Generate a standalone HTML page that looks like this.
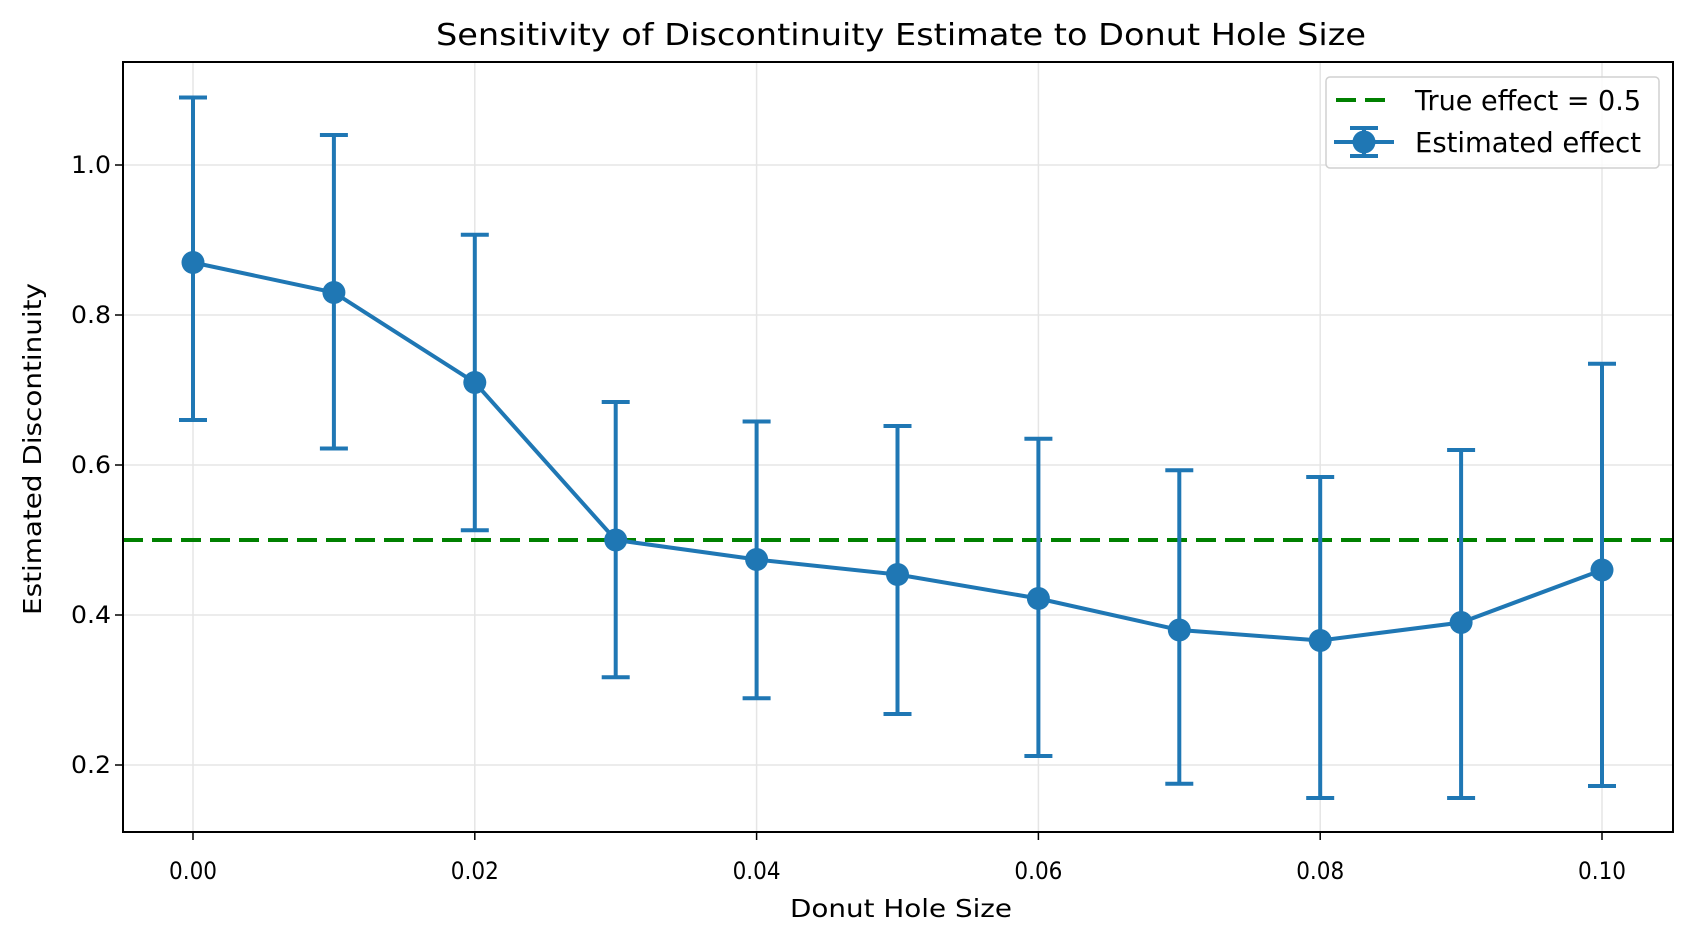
<!DOCTYPE html>
<html><head><meta charset="utf-8"><style>body{margin:0;background:#fff}svg{display:block}text{font-family:"DejaVu Sans","Liberation Sans",sans-serif;fill:#000}</style></head>
<body>
<svg id="s" width="1692" height="939" xmlns="http://www.w3.org/2000/svg"></svg>
<script>
const L=123,R=1673,T=62,B=832;
const X=v=>193+v*14090, Y=v=>165+(1-v)*750;
const m=[0.87,0.83,0.71,0.50,0.474,0.454,0.422,0.38,0.366,0.39,0.46];
const up=[1.09,1.04,0.907,0.684,0.658,0.652,0.635,0.593,0.584,0.62,0.735];
const lo=[0.66,0.622,0.513,0.317,0.289,0.268,0.212,0.175,0.156,0.156,0.172];
const LA='lengthAdjust="spacingAndGlyphs"';
let s='';
s+=`<text x="901" y="45" font-size="30" text-anchor="middle" textLength="930" ${LA}>Sensitivity of Discontinuity Estimate to Donut Hole Size</text>`;
for(let i=0;i<=5;i++){const x=X(i*0.02);s+=`<line x1="${x}" y1="${T}" x2="${x}" y2="${B}" stroke="#e5e5e5" stroke-width="1.5"/><line x1="${x}" y1="${B}" x2="${x}" y2="${B+8}" stroke="#000" stroke-width="1.5"/><text x="${x}" y="879" font-size="24" text-anchor="middle" textLength="48" ${LA}>${(i*0.02).toFixed(2)}</text>`;}
for(let i=1;i<=5;i++){const v=i*0.2,y=Y(v);s+=`<line x1="${L}" y1="${y}" x2="${R}" y2="${y}" stroke="#e5e5e5" stroke-width="1.5"/><line x1="${L-8}" y1="${y}" x2="${L}" y2="${y}" stroke="#000" stroke-width="1.5"/><text x="${L-12}" y="${y+8}" font-size="24" text-anchor="end" textLength="40" ${LA}>${v.toFixed(1)}</text>`;}
s+=`<text x="901" y="917" font-size="25" text-anchor="middle" textLength="222" ${LA}>Donut Hole Size</text>`;
s+=`<text transform="translate(41,449) rotate(-90)" font-size="25" text-anchor="middle" textLength="332" ${LA}>Estimated Discontinuity</text>`;
s+=`<line x1="${L}" y1="${Y(0.5)}" x2="${R}" y2="${Y(0.5)}" stroke="#008000" stroke-width="4" stroke-dasharray="20,9"/>`;
let pts=m.map((v,i)=>X(i*0.01)+','+Y(v)).join(' ');
for(let i=0;i<11;i++){const x=X(i*0.01);s+=`<line x1="${x}" y1="${Y(up[i])}" x2="${x}" y2="${Y(lo[i])}" stroke="#1f77b4" stroke-width="4"/><line x1="${x-14}" y1="${Y(up[i])}" x2="${x+14}" y2="${Y(up[i])}" stroke="#1f77b4" stroke-width="4"/><line x1="${x-14}" y1="${Y(lo[i])}" x2="${x+14}" y2="${Y(lo[i])}" stroke="#1f77b4" stroke-width="4"/>`;}
s+=`<polyline points="${pts}" fill="none" stroke="#1f77b4" stroke-width="4"/>`;
for(let i=0;i<11;i++)s+=`<circle cx="${X(i*0.01)}" cy="${Y(m[i])}" r="11.5" fill="#1f77b4"/>`;
s+=`<rect x="${L}" y="${T}" width="${R-L}" height="${B-T}" fill="none" stroke="#000" stroke-width="2"/>`;
s+=`<g transform="translate(-8,0)">`;
s+=`<rect x="1334" y="77" width="333" height="91" rx="4" fill="#fff" fill-opacity="0.8" stroke="#d0d0d0" stroke-width="1.5"/>`;
s+=`<line x1="1344" y1="100" x2="1394" y2="100" stroke="#008000" stroke-width="4" stroke-dasharray="20,9"/><text x="1423" y="110" font-size="28" textLength="226" ${LA}>True effect = 0.5</text>`;
s+=`<line x1="1342" y1="142" x2="1402" y2="142" stroke="#1f77b4" stroke-width="4"/><line x1="1372" y1="128" x2="1372" y2="156" stroke="#1f77b4" stroke-width="4"/><line x1="1358" y1="128" x2="1386" y2="128" stroke="#1f77b4" stroke-width="4"/><line x1="1358" y1="156" x2="1386" y2="156" stroke="#1f77b4" stroke-width="4"/><circle cx="1372" cy="142" r="11.5" fill="#1f77b4"/><text x="1423" y="152" font-size="28" textLength="226" ${LA}>Estimated effect</text>`;
s+=`</g>`;
document.getElementById('s').innerHTML=s;
</script>
</body></html>
